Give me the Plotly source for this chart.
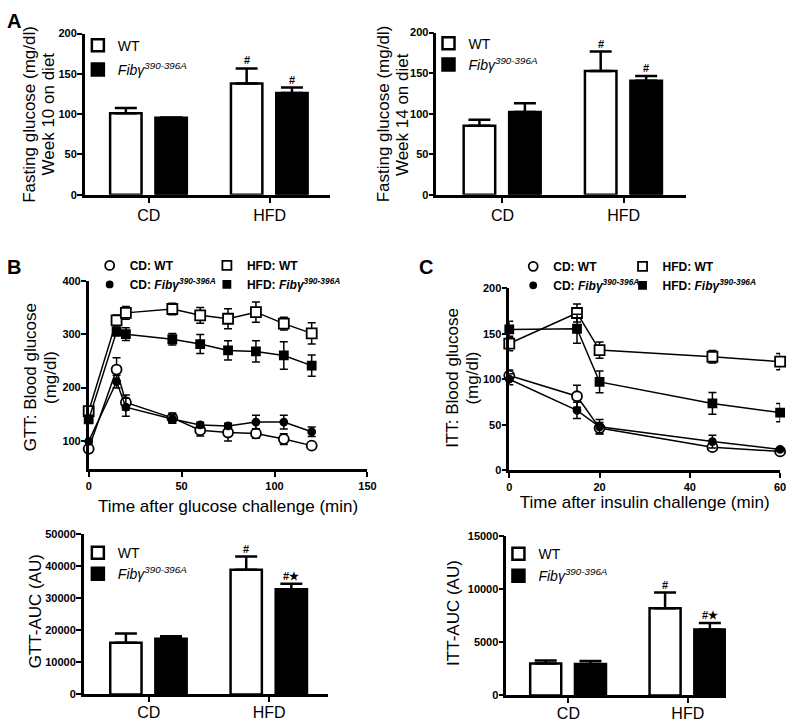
import plotly.graph_objects as go

W, H = 798, 725
FONT = "Arial, Liberation Sans, sans-serif"

# ---------------- data ----------------
categories = ["CD", "HFD"]
fib_label = "<i>Fibγ<sup>390-396A</sup></i>"

# Panel A: fasting glucose week 10
fg10_wt = [101.2, 138.2]
fg10_wt_err = [6.5, 18.6]
fg10_fib = [95.5, 126.3]
fg10_fib_err = [0.5, 6.7]
fg10_marks_wt = ["", "#"]
fg10_marks_fib = ["", "#"]

# Panel A: fasting glucose week 14
fg14_wt = [85.0, 152.5]
fg14_wt_err = [7.5, 24.0]
fg14_fib = [102.0, 140.5]
fg14_fib_err = [11.0, 6.0]
fg14_marks_wt = ["", "#"]
fg14_marks_fib = ["", "#"]

# Panel B: GTT
gtt_time = [0, 15, 20, 45, 60, 75, 90, 105, 120]
gtt_cd_wt = [84.6, 234, 172, 143, 119.8, 115.4, 113.6, 103, 90.7]
gtt_cd_wt_err = [4, 22, 14, 9, 11, 16, 9, 10, 3]
gtt_cd_fib = [98.8, 211, 163, 141, 129.6, 127.8, 135, 135, 116.7]
gtt_cd_fib_err = [5, 12, 17, 8, 5, 5, 13, 13, 9]
gtt_hfd_wt = [155.5, 326.5, 340.7, 348, 336, 329.6, 342, 320.4, 302]
gtt_hfd_wt_err = [6, 10, 12, 11, 15, 19, 19, 12, 20]
gtt_hfd_fib = [140, 305.5, 300.6, 291, 282, 270, 268, 260.5, 241.4]
gtt_hfd_fib_err = [5, 8, 12, 11, 18, 18, 20, 26, 20]

# Panel C: ITT
itt_time = [0, 15, 20, 45, 60]
itt_cd_wt = [104, 81.3, 46.3, 25.3, 20.6]
itt_cd_wt_err = [6, 12, 6, 3, 2]
itt_cd_fib = [100, 65.8, 47.7, 31.5, 22.8]
itt_cd_fib_err = [6, 9, 8, 7, 2]
itt_hfd_wt = [139.2, 172.8, 132, 124.7, 119.3]
itt_hfd_wt_err = [8, 10, 9, 7, 9]
itt_hfd_fib = [154.7, 155.5, 97, 73.4, 63.3]
itt_hfd_fib_err = [9, 16, 12, 12, 10]

# AUC bars
gtt_auc_wt = [16100, 38900]
gtt_auc_wt_err = [2900, 4100]
gtt_auc_fib = [17400, 32800]
gtt_auc_fib_err = [750, 1700]
gtt_auc_marks_wt = ["", "#"]
gtt_auc_marks_fib = ["", "#★"]

itt_auc_wt = [3000, 8200]
itt_auc_wt_err = [280, 1480]
itt_auc_fib = [2950, 6200]
itt_auc_fib_err = [300, 620]
itt_auc_marks_wt = ["", "#"]
itt_auc_marks_fib = ["", "#★"]

# axis titles
ytitle_a1 = ["Fasting glucose (mg/dl)", "Week 10 on diet"]
ytitle_a2 = ["Fasting glucose (mg/dl)", "Week 14 on diet"]
ytitle_gtt = ["GTT: Blood glucose", "(mg/dl)"]
ytitle_itt = ["ITT: Blood glucose", "(mg/dl)"]
ytitle_gtt_auc = ["GTT-AUC (AU)"]
ytitle_itt_auc = ["ITT-AUC (AU)"]
xtitle_gtt = "Time after glucose challenge (min)"
xtitle_itt = "Time after insulin challenge (min)"

# ---------------- helpers ----------------
def dom_x(a, b):
    return [a / W, b / W]


def dom_y(top, bottom):
    return [1 - bottom / H, 1 - top / H]


def px_x(v):
    return v / W


def px_y(v):
    return 1 - v / H


BAR_W = 0.26
OFF_WT = -0.32
OFF_FIB = 0.055

fig = go.Figure()
annotations = []


def axis_base():
    return dict(
        showline=True, linecolor="black", linewidth=2.5,
        ticks="outside", ticklen=5, tickwidth=2, tickcolor="black",
        showgrid=False, zeroline=False,
        tickfont=dict(family=FONT, size=11, color="black", weight="bold"),
    )


def bar_panel(n, wt, wt_err, fib, fib_err, marks_wt, marks_fib, legend_name):
    xa = "x" if n == 1 else f"x{n}"
    ya = "y" if n == 1 else f"y{n}"
    for vals, errs, off, color, name, marks, grp in [
        (wt, wt_err, OFF_WT, "white", "WT", marks_wt, "wt"),
        (fib, fib_err, OFF_FIB, "black", fib_label, marks_fib, "fib"),
    ]:
        fig.add_trace(go.Bar(
            x=categories, y=vals, width=BAR_W, offset=off,
            marker=dict(color=color, line=dict(color="black", width=2.5)),
            error_y=dict(type="data", array=errs, arrayminus=[0] * len(errs),
                         symmetric=False, color="black", thickness=2.5, width=11),
            name=name, legend=legend_name, legendgroup=f"{legend_name}_{grp}",
            xaxis=xa, yaxis=ya, showlegend=True,
        ))
        for i, (v, e, m) in enumerate(zip(vals, errs, marks)):
            if m:
                annotations.append(dict(
                    x=i + off + BAR_W / 2, y=v + e, xref=xa, yref=ya,
                    text=m, showarrow=False, yanchor="bottom", yshift=0,
                    font=dict(family=FONT, size=11, color="black", weight="bold"),
                ))


def line_panel(n, t, series):
    xa = f"x{n}"
    ya = f"y{n}"
    for vals, errs, sym, fill, size, name, lg in series:
        fig.add_trace(go.Scatter(
            x=t, y=vals, mode="lines+markers",
            line=dict(color="black", width=1.5),
            marker=dict(symbol=sym, size=size, color=fill,
                        line=dict(color="black", width=1.8)),
            error_y=dict(type="data", array=errs, color="black", thickness=1.5, width=4),
            name=name, showlegend=False, xaxis=xa, yaxis=ya, cliponaxis=False,
        ))
    # legend entries (symbol only, like the reference key)
    for vals, errs, sym, fill, size, name, lg in series:
        fig.add_trace(go.Scatter(
            x=[None], y=[None], mode="markers",
            marker=dict(symbol=sym, size=size - 1, color=fill,
                        line=dict(color="black", width=1.8)),
            name=name, legend=lg, xaxis=xa, yaxis=ya, showlegend=True,
        ))


# Panel A left (axes 1)
bar_panel(1, fg10_wt, fg10_wt_err, fg10_fib, fg10_fib_err, fg10_marks_wt, fg10_marks_fib, "legend")
# Panel A right (axes 2)
bar_panel(2, fg14_wt, fg14_wt_err, fg14_fib, fg14_fib_err, fg14_marks_wt, fg14_marks_fib, "legend2")
# Panel B bottom (axes 5)
bar_panel(5, gtt_auc_wt, gtt_auc_wt_err, gtt_auc_fib, gtt_auc_fib_err, gtt_auc_marks_wt, gtt_auc_marks_fib, "legend3")
# Panel C bottom (axes 6)
bar_panel(6, itt_auc_wt, itt_auc_wt_err, itt_auc_fib, itt_auc_fib_err, itt_auc_marks_wt, itt_auc_marks_fib, "legend4")

# Panel B top: GTT (axes 3)
line_panel(3, gtt_time, [
    (gtt_cd_wt, gtt_cd_wt_err, "circle", "white", 10, "CD: WT", "legend5"),
    (gtt_cd_fib, gtt_cd_fib_err, "circle", "black", 7, "CD: " + fib_label, "legend5"),
    (gtt_hfd_wt, gtt_hfd_wt_err, "square", "white", 10, "HFD: WT", "legend6"),
    (gtt_hfd_fib, gtt_hfd_fib_err, "square", "black", 8, "HFD: " + fib_label, "legend6"),
])

# Panel C top: ITT (axes 4)
line_panel(4, itt_time, [
    (itt_cd_wt, itt_cd_wt_err, "circle", "white", 10, "CD: WT", "legend7"),
    (itt_cd_fib, itt_cd_fib_err, "circle", "black", 7, "CD: " + fib_label, "legend7"),
    (itt_hfd_wt, itt_hfd_wt_err, "square", "white", 10, "HFD: WT", "legend8"),
    (itt_hfd_fib, itt_hfd_fib_err, "square", "black", 8, "HFD: " + fib_label, "legend8"),
])

title_font = dict(family=FONT, size=17, color="black", weight=400)
cat_font = dict(family=FONT, size=16, color="black", weight=400)


def cat_xaxis(dom, rng, anchor, standoff):
    d = axis_base()
    d.update(domain=dom, range=rng, type="category", categoryorder="array",
             categoryarray=categories, anchor=anchor, tickfont=cat_font,
             ticklabelstandoff=standoff)
    return d


def yaxis_bar(dom, rng, dtick, anchor):
    d = axis_base()
    d.update(domain=dom, range=rng, dtick=dtick, tick0=0, anchor=anchor,
             tickformat="d", ticklabelstandoff=-2)
    return d


layout = dict(
    width=W, height=H, margin=dict(l=0, r=0, t=0, b=0),
    paper_bgcolor="white", plot_bgcolor="white",
    barmode="overlay", showlegend=True,
    font=dict(family=FONT, color="black"),
)

# A left
layout["xaxis"] = cat_xaxis(dom_x(83, 332), [-0.53, 1.5], "y", -1)
layout["yaxis"] = yaxis_bar(dom_y(28, 192), [0, 200], 50, "x")
# A right
layout["xaxis2"] = cat_xaxis(dom_x(440, 693), [-0.545, 1.51], "y2", -1)
layout["yaxis2"] = yaxis_bar(dom_y(27, 192), [0, 200], 50, "x2")

# B top (GTT)
xa3 = axis_base()
xa3.update(domain=dom_x(87, 370), range=[0, 150], dtick=50, tick0=0, anchor="y3",
           title=dict(text=xtitle_gtt, font=title_font, standoff=9))
ya3 = axis_base()
ya3.update(domain=dom_y(280, 471), range=[46.3, 400], dtick=100, tick0=0, anchor="x3",
           ticklabelstandoff=-2)
layout["xaxis3"] = xa3
layout["yaxis3"] = ya3

# C top (ITT)
xa4 = axis_base()
xa4.update(domain=dom_x(514, 789), range=[0, 60], dtick=20, tick0=0, anchor="y4",
           title=dict(text=xtitle_itt, font=title_font, standoff=2))
ya4 = axis_base()
ya4.update(domain=dom_y(287, 472), range=[0, 200], dtick=50, tick0=0, anchor="x4",
           ticklabelstandoff=-2)
layout["xaxis4"] = xa4
layout["yaxis4"] = ya4

# B bottom (GTT AUC)
layout["xaxis5"] = cat_xaxis(dom_x(82, 330), [-0.54, 1.49], "y5", -3)
layout["yaxis5"] = yaxis_bar(dom_y(537, 700), [0, 50000], 10000, "x5")
# C bottom (ITT AUC)
layout["xaxis6"] = cat_xaxis(dom_x(511, 734), [-0.52, 1.32], "y6", -3)
layout["yaxis6"] = yaxis_bar(dom_y(539, 701), [0, 15000], 5000, "x6")

# rotated y-axis titles (one annotation per text line)
for lines, xcs, yc in [
    (ytitle_a1, [27, 46], 110), (ytitle_a2, [386, 405], 110),
    (ytitle_gtt, [28, 48], 378), (ytitle_itt, [457, 477], 378),
    (ytitle_gtt_auc, [33], 616), (ytitle_itt_auc, [458], 617),
]:
    for text, xc in zip(lines, xcs):
        annotations.append(dict(x=px_x(xc), y=px_y(yc), xref="paper", yref="paper",
                                text=text, showarrow=False, textangle=-90,
                                xanchor="center", yanchor="middle",
                                font=title_font))


def bar_legend(xpx, ypx, gap=0):
    return dict(x=px_x(xpx), y=px_y(ypx), xanchor="left", yanchor="top",
                bgcolor="rgba(0,0,0,0)", tracegroupgap=gap, itemwidth=30,
                font=dict(family=FONT, size=14, color="black"))


def line_legend(xpx, ypx):
    return dict(x=px_x(xpx), y=px_y(ypx), xanchor="left", yanchor="top",
                bgcolor="rgba(0,0,0,0)", tracegroupgap=0, itemwidth=30,
                font=dict(family=FONT, size=12, color="black", weight="bold"))


layout["legend"] = bar_legend(76, 24, gap=3)
layout["legend2"] = bar_legend(432, 22, gap=0)
layout["legend3"] = bar_legend(76, 540, gap=0)
layout["legend4"] = bar_legend(503, 541, gap=1)
layout["legend5"] = line_legend(88, 249)
layout["legend6"] = line_legend(207, 249)
layout["legend7"] = line_legend(518, 250)
layout["legend8"] = line_legend(629, 250)

letter_font = dict(family=FONT, size=20, color="black", weight="bold")
for letter, xp, yp in [("A", 2, 2), ("B", 2, 252), ("C", 420, 252)]:
    annotations.append(dict(x=px_x(xp), y=px_y(yp), xref="paper", yref="paper",
                            text=letter, showarrow=False, xanchor="left", yanchor="top",
                            font=letter_font))

layout["annotations"] = annotations
fig.update_layout(**layout)
fig.write_html("out.html", config={"displayModeBar": False},
               post_script="document.body.style.margin='0px';")
